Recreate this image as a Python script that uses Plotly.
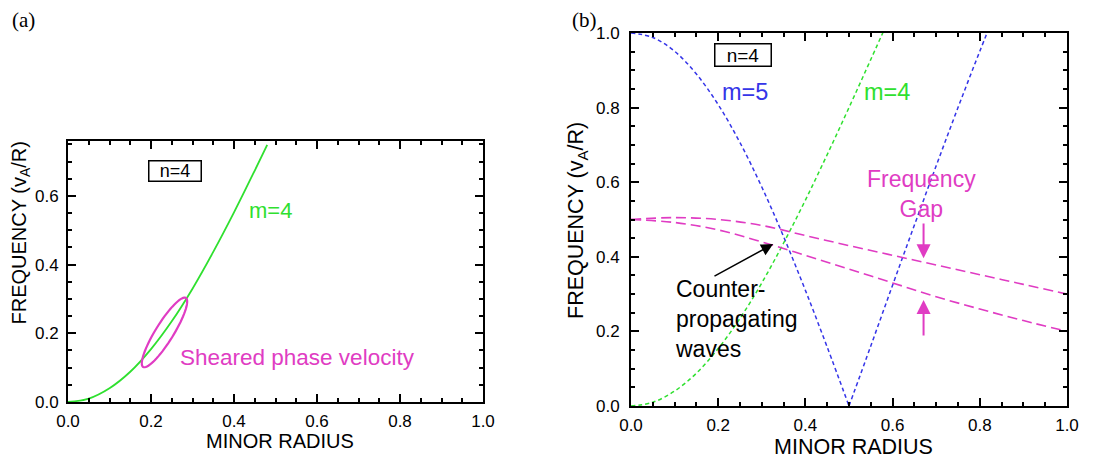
import math
import plotly.graph_objects as go

# ---------------- data ----------------
# Panel (a): m=4 continuum branch (solid)
R_A = [0.0, 0.05, 0.10, 0.15, 0.20, 0.25, 0.30, 0.35, 0.40, 0.45, 0.48]
M4_A = [0.000, 0.010, 0.040, 0.088, 0.154, 0.235, 0.330, 0.437, 0.552, 0.674, 0.749]

# Panel (b): m=5 branch (blue dotted)
R_M5 = [0.0, 0.05, 0.10, 0.15, 0.20, 0.25, 0.30, 0.35, 0.40, 0.45, 0.50,
        0.55, 0.60, 0.65, 0.70, 0.75, 0.80, 0.85]
M5_B = [1.000, 0.988, 0.951, 0.890, 0.808, 0.706, 0.587, 0.454, 0.310, 0.158, 0.000,
        0.161, 0.324, 0.485, 0.644, 0.800, 0.951, 1.097]

# Panel (b): m=4 branch (green dotted)
R_M4 = [0.0, 0.05, 0.10, 0.15, 0.20, 0.25, 0.30, 0.35, 0.40, 0.45, 0.50, 0.55, 0.60]
M4_B = [0.000, 0.010, 0.040, 0.088, 0.154, 0.235, 0.330, 0.437, 0.552, 0.674, 0.800, 0.929, 1.059]

# Panel (b): gap edges (magenta dashed)
R_GAP = [0.0, 0.1, 0.2, 0.3, 0.4, 0.5, 0.6, 0.7, 0.8, 0.9, 1.0]
GAP_UPPER = [0.500, 0.505, 0.500, 0.484, 0.457, 0.430, 0.404, 0.378, 0.352, 0.326, 0.300]
GAP_LOWER = [0.500, 0.492, 0.472, 0.440, 0.404, 0.367, 0.330, 0.293, 0.260, 0.229, 0.200]

X_TICKS = [0.0, 0.2, 0.4, 0.6, 0.8, 1.0]
X_TICK_LABELS = ["0.0", "0.2", "0.4", "0.6", "0.8", "1.0"]
Y_TICKS_A = [0.0, 0.2, 0.4, 0.6]
Y_TICK_LABELS_A = ["0.0", "0.2", "0.4", "0.6"]
Y_TICKS_B = [0.0, 0.2, 0.4, 0.6, 0.8, 1.0]
Y_TICK_LABELS_B = ["0.0", "0.2", "0.4", "0.6", "0.8", "1.0"]

# ellipse annotation in panel (a): centre, major and minor semi-axis vectors (data units)
ELL_CENTER = (0.2325, 0.2025)
ELL_MAJOR = (0.0515, 0.1005)
ELL_MINOR = (0.0184, -0.0138)

# ---------------- styles ----------------
GREEN = "#2FE02F"
BLUE = "#3535E8"
MAGENTA = "#E03CC3"
FONT = "Liberation Sans"
OFF = 8                      # page body margin
W, H = 1103 - OFF, 461 - OFF


def px(x):
    return (x - OFF) / W


def py(y):
    return 1 - (y - OFF) / H


fig = go.Figure()

# panel (a)
fig.add_trace(go.Scatter(x=R_A, y=M4_A, mode="lines", xaxis="x", yaxis="y",
                         line=dict(color=GREEN, width=1.8, shape="spline"),
                         showlegend=False, hoverinfo="skip"))

# panel (b)
i0 = M5_B.index(min(M5_B))
fig.add_trace(go.Scatter(x=R_M5[:i0 + 1], y=M5_B[:i0 + 1], mode="lines", xaxis="x2", yaxis="y2",
                         line=dict(color=BLUE, width=1.5, dash="4px,3px", shape="spline"),
                         showlegend=False, hoverinfo="skip"))
fig.add_trace(go.Scatter(x=R_M5[i0:], y=M5_B[i0:], mode="lines", xaxis="x2", yaxis="y2",
                         line=dict(color=BLUE, width=1.5, dash="4px,3px", shape="spline"),
                         showlegend=False, hoverinfo="skip"))
fig.add_trace(go.Scatter(x=R_M4, y=M4_B, mode="lines", xaxis="x2", yaxis="y2",
                         line=dict(color=GREEN, width=1.5, dash="4px,3px", shape="spline"),
                         showlegend=False, hoverinfo="skip"))
fig.add_trace(go.Scatter(x=R_GAP, y=GAP_UPPER, mode="lines", xaxis="x2", yaxis="y2",
                         line=dict(color=MAGENTA, width=1.6, dash="10px,5px", shape="spline"),
                         showlegend=False, hoverinfo="skip"))
fig.add_trace(go.Scatter(x=R_GAP, y=GAP_LOWER, mode="lines", xaxis="x2", yaxis="y2",
                         line=dict(color=MAGENTA, width=1.6, dash="10px,5px", shape="spline"),
                         showlegend=False, hoverinfo="skip"))

# ellipse shape
pts = []
for k in range(73):
    t = 2 * math.pi * k / 72
    ex = ELL_CENTER[0] + ELL_MAJOR[0] * math.cos(t) + ELL_MINOR[0] * math.sin(t)
    ey = ELL_CENTER[1] + ELL_MAJOR[1] * math.cos(t) + ELL_MINOR[1] * math.sin(t)
    pts.append(f"{ex:.5f},{ey:.5f}")
path = "M " + " L ".join(pts) + " Z"
fig.add_shape(type="path", path=path, xref="x", yref="y",
              line=dict(color=MAGENTA, width=2.2))

axis_common = dict(
    showline=True, linecolor="black", linewidth=2, mirror="ticks",
    ticks="inside", ticklen=8, tickwidth=1.5, tickcolor="black",
    showgrid=False, zeroline=False, automargin=False,
    tickfont=dict(family=FONT, size=17, color="black"),
    minor=dict(dtick=0.05, tick0=0, ticks="inside", ticklen=4, tickwidth=1.5,
               tickcolor="black", showgrid=False),
)

fig.update_layout(
    width=W, height=H, autosize=False,
    margin=dict(l=0, r=0, t=0, b=0, pad=0, autoexpand=False),
    paper_bgcolor="white", plot_bgcolor="white",
    xaxis=dict(domain=[px(68), px(483)], range=[0, 1], anchor="y",
               tickvals=X_TICKS, ticktext=X_TICK_LABELS, ticklabelstandoff=3, **axis_common),
    yaxis=dict(domain=[py(402), py(141)], range=[0, 0.76], anchor="x",
               tickvals=Y_TICKS_A, ticktext=Y_TICK_LABELS_A, ticklabelstandoff=4, **axis_common),
    xaxis2=dict(domain=[px(631), px(1067)], range=[0, 1], anchor="y2",
                tickvals=X_TICKS, ticktext=X_TICK_LABELS, ticklabelstandoff=3, **axis_common),
    yaxis2=dict(domain=[py(406), py(33)], range=[0, 1], anchor="x2",
                tickvals=Y_TICKS_B, ticktext=Y_TICK_LABELS_B, ticklabelstandoff=6, **axis_common),
)


def txt(x, y, text, size, color="black", xanchor="center", yanchor="middle", angle=0,
        family=FONT, align="center", **kw):
    fig.add_annotation(x=px(x), y=py(y), xref="paper", yref="paper", text=text,
                       showarrow=False, xanchor=xanchor, yanchor=yanchor, textangle=angle,
                       align=align, font=dict(family=family, size=size, color=color), **kw)


# panel labels
txt(23, 20, "(a)", 21, family="Liberation Serif", borderpad=0)
txt(584, 20, "(b)", 21, family="Liberation Serif", borderpad=0)

# axis titles
txt(19.5, 233, "FREQUENCY (v<sub>A</sub>/R)", 20, angle=-90, borderpad=0)
txt(280, 441, "MINOR RADIUS", 20, borderpad=0)
txt(578, 221, "FREQUENCY (v<sub>A</sub>/R)", 21.5, angle=-90, borderpad=0)
txt(853, 447, "MINOR RADIUS", 21.5, borderpad=0)

# panel (a) annotations
txt(175, 171.5, "n=4", 18, width=51, height=19, bordercolor="black", borderwidth=1.5, borderpad=0)
txt(270, 210, "m=4", 22, color=GREEN)
txt(297.5, 357, "Sheared phase velocity", 22.5, color=MAGENTA)

# panel (b) annotations
txt(743, 55.5, "n=4", 19, width=55, height=21, bordercolor="black", borderwidth=1.5, borderpad=0)
txt(745, 92, "m=5", 23.5, color=BLUE)
txt(887, 92, "m=4", 23.5, color=GREEN)
txt(921, 193.5, "Frequency<br>Gap", 23, color=MAGENTA)
txt(673, 319, "Counter-<br>propagating<br>waves", 23, xanchor="left", align="left")

# arrows (panel b)
fig.add_annotation(x=0.326, y=0.434, ax=0.188, ay=0.346, xref="x2", yref="y2",
                   axref="x2", ayref="y2", text="", showarrow=True,
                   arrowhead=2, arrowsize=1.6, arrowwidth=1.5, arrowcolor="black")
fig.add_annotation(x=0.671, y=0.396, ax=0.671, ay=0.493, xref="x2", yref="y2",
                   axref="x2", ayref="y2", text="", showarrow=True,
                   arrowhead=2, arrowsize=1.4, arrowwidth=2, arrowcolor=MAGENTA)
fig.add_annotation(x=0.671, y=0.284, ax=0.671, ay=0.185, xref="x2", yref="y2",
                   axref="x2", ayref="y2", text="", showarrow=True,
                   arrowhead=2, arrowsize=1.4, arrowwidth=2, arrowcolor=MAGENTA)

fig.write_html("out.html")
